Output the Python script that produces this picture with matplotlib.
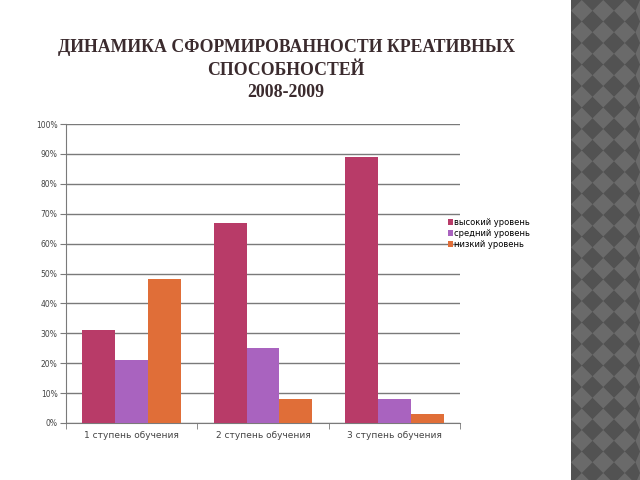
import numpy as np
import matplotlib.pyplot as plt
from matplotlib.patches import Rectangle, Polygon

# Данные диаграммы
categories = ['1 ступень обучения', '2 ступень обучения', '3 ступень обучения']
series_names = ['высокий уровень', 'средний уровень', 'низкий уровень']
high = [31, 67, 89]
medium = [21, 25, 8]
low = [48, 8, 3]
colors = ['#B83B68', '#A963BF', '#E06E38']

fig = plt.figure(figsize=(6.4, 4.8), dpi=100)
fig.patch.set_facecolor('white')

# декоративная полоса справа (ромбы)
x0 = 571
fig.patches.append(Rectangle((x0/640, 0), (640 - x0)/640, 1, transform=fig.transFigure,
                             facecolor='#525252', edgecolor='none', zorder=0))
h = 10.75
for row in range(-1, int(480 / (2 * h)) + 2):
    for col in range(0, 5):
        cx = x0 + h + col * 2 * h
        cy = h + row * 2 * h
        pts = [(cx, cy - h), (cx + h, cy), (cx, cy + h), (cx - h, cy)]
        pts = [(min(max(px, x0), 640) / 640, 1 - py / 480) for px, py in pts]
        fig.patches.append(Polygon(pts, closed=True, transform=fig.transFigure,
                                   facecolor='#6a6a6a', edgecolor='none', zorder=0))

fig.text(0.447, 0.854, 'ДИНАМИКА СФОРМИРОВАННОСТИ КРЕАТИВНЫХ\nСПОСОБНОСТЕЙ\n2008-2009',
         ha='center', va='center', fontsize=12.8, fontweight='bold',
         family='Liberation Serif', color='#3b2b2e', linespacing=1.4)

ax = fig.add_axes([66/640, 1 - 423/480, 394/640, 299/480])
x = np.arange(len(categories))
w = 0.25
for i, (vals, name) in enumerate(zip([high, medium, low], series_names)):
    ax.bar(x + (i - 1) * w, vals, w, color=colors[i], label=name, zorder=3)

ax.set_xlim(-0.5, 2.5)
ax.set_ylim(0, 100)
ax.set_yticks(range(0, 101, 10))
ax.set_yticklabels([f'{v}%' for v in range(0, 101, 10)], fontsize=5.5, color='#444444')
ax.yaxis.grid(True, color='#7a7a7a', linewidth=1, zorder=0)
ax.set_xticks(x)
ax.set_xticklabels(categories, fontsize=6.5, color='#444444')
ax.set_xticks([-0.5, 0.5, 1.5, 2.5], minor=True)
ax.tick_params(axis='x', which='major', length=0, pad=6)
ax.tick_params(axis='x', which='minor', length=4, color='#7a7a7a')
ax.tick_params(axis='y', length=4, color='#7a7a7a', pad=2)
for s in ['top', 'right']:
    ax.spines[s].set_visible(False)
for s in ['left', 'bottom']:
    ax.spines[s].set_color('#7a7a7a')

ax.legend(loc='center left', bbox_to_anchor=(0.96, 0.635), frameon=False,
          fontsize=6, handlelength=0.7, handleheight=0.7, handletextpad=0.1,
          labelspacing=0.25, borderaxespad=0)

fig.savefig('out.png', dpi=100)
